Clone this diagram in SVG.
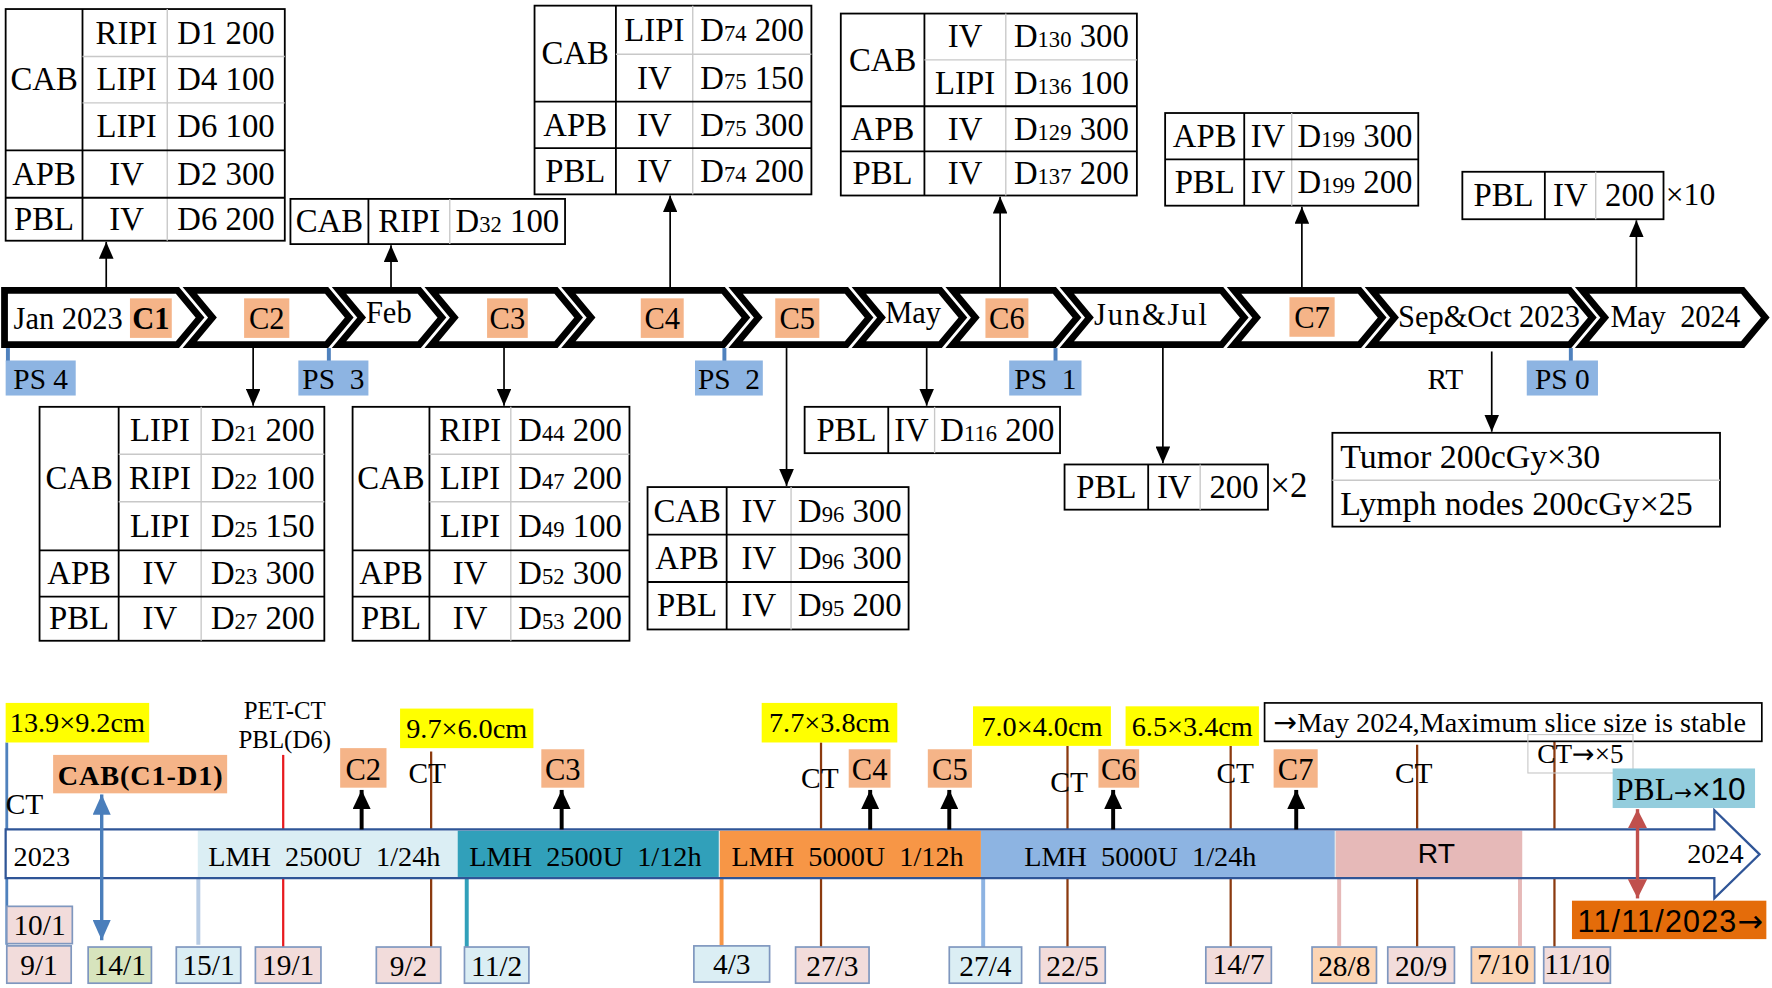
<svg xmlns="http://www.w3.org/2000/svg" width="1772" height="988" viewBox="0 0 1772 988">
<style>
.tb{fill:#fff;stroke:#000;stroke-width:1.6}
.dk{stroke:#000;stroke-width:1.6}
.lt{stroke:#c8c8c8;stroke-width:1.2}
.t{font-family:"Liberation Serif","Times New Roman",serif;font-size:29px;text-anchor:middle;fill:#000}
.tl{font-family:"Liberation Serif","Times New Roman",serif;font-size:30px;fill:#000}
.sub{font-size:20px}
.chev{fill:#fff;stroke:#000;stroke-width:6;stroke-linejoin:miter}
.cb{fill:#F5B488}
.ct{font-family:"Liberation Serif","Times New Roman",serif;font-size:27px;text-anchor:middle;fill:#000}
.ps{fill:#8DB4E2}
.psl{stroke:#4F81BD;stroke-width:3.5}
.ar{stroke:#000;stroke-width:1.5;marker-end:url(#ah)}
.arb{stroke:#000;stroke-width:3.5;marker-end:url(#ahb)}
.s{font-family:"Liberation Serif","Times New Roman",serif;font-size:25px;fill:#000;white-space:pre}
.m{text-anchor:middle}
.yb{fill:#FFFF00}
.br{stroke:#8B3A0F;stroke-width:2}
.dt{stroke:#7F97BF;stroke-width:1.5}
.pk{fill:#F2DCDB}
.lb{fill:#DBEEF4}
.gn{fill:#D7E4BD}
.lo{fill:#FCD5B5}
.dtx{font-family:"Liberation Serif","Times New Roman",serif;font-size:26px;text-anchor:middle;fill:#000}
.arw{font-family:"DejaVu Sans",sans-serif}
</style>
<defs>
<marker id="ah" viewBox="0 0 10 10" refX="10" refY="5" markerWidth="15" markerHeight="13" markerUnits="userSpaceOnUse" orient="auto" preserveAspectRatio="none"><path d="M0,0L10,5L0,10z" fill="#000"/></marker>
<marker id="ahb" viewBox="0 0 10 10" refX="10" refY="5" markerWidth="17" markerHeight="16" markerUnits="userSpaceOnUse" orient="auto" preserveAspectRatio="none"><path d="M0,0L10,5L0,10z" fill="#000"/></marker>
<marker id="abl" viewBox="0 0 10 10" refX="10" refY="5" markerWidth="18" markerHeight="16" markerUnits="userSpaceOnUse" orient="auto-start-reverse" preserveAspectRatio="none"><path d="M0,0L10,5L0,10z" fill="#4A7EBB"/></marker>
<marker id="ard" viewBox="0 0 10 10" refX="10" refY="5" markerWidth="17" markerHeight="17" markerUnits="userSpaceOnUse" orient="auto-start-reverse" preserveAspectRatio="none"><path d="M0,0L10,5L0,10z" fill="#C0504D"/></marker>
</defs>
<rect width="1772" height="988" fill="#fff"/>
<g transform="scale(1.1301)">

<!-- TOP TABLES -->
<g id="t1">
<rect x="5" y="8" width="247" height="205" class="tb"/>
<line x1="73" y1="8" x2="73" y2="213" class="dk"/>
<line x1="148" y1="8" x2="148" y2="213" class="lt"/>
<line x1="73" y1="50" x2="252" y2="50" class="lt"/>
<line x1="73" y1="91" x2="252" y2="91" class="lt"/>
<line x1="5" y1="133" x2="252" y2="133" class="dk"/>
<line x1="5" y1="175" x2="252" y2="175" class="dk"/>
<text x="39" y="80" class="t">CAB</text>
<text x="112" y="38.5" class="t">RIPI</text><text x="200" y="38.5" class="t">D1 200</text>
<text x="112" y="80" class="t">LIPI</text><text x="200" y="80" class="t">D4 100</text>
<text x="112" y="121.5" class="t">LIPI</text><text x="200" y="121.5" class="t">D6 100</text>
<text x="39" y="163.5" class="t">APB</text><text x="112" y="163.5" class="t">IV</text><text x="200" y="163.5" class="t">D2 300</text>
<text x="39" y="203.5" class="t">PBL</text><text x="112" y="203.5" class="t">IV</text><text x="200" y="203.5" class="t">D6 200</text>
</g>
<g id="t2">
<rect x="257" y="176" width="243" height="40" class="tb"/>
<line x1="326" y1="176" x2="326" y2="216" class="dk"/>
<line x1="398" y1="176" x2="398" y2="216" class="lt"/>
<text x="291.5" y="205.5" class="t">CAB</text><text x="362" y="205.5" class="t">RIPI</text><text x="449" y="205.5" class="t">D<tspan class="sub">32</tspan> 100</text>
</g>
<g id="t3">
<rect x="473" y="5" width="245" height="167" class="tb"/>
<line x1="545" y1="5" x2="545" y2="172" class="dk"/>
<line x1="613" y1="5" x2="613" y2="172" class="lt"/>
<line x1="545" y1="48" x2="718" y2="48" class="lt"/>
<line x1="473" y1="90" x2="718" y2="90" class="dk"/>
<line x1="473" y1="131" x2="718" y2="131" class="dk"/>
<text x="509" y="57" class="t">CAB</text>
<text x="579" y="36" class="t">LIPI</text><text x="665.5" y="36" class="t">D<tspan class="sub">74</tspan> 200</text>
<text x="579" y="78.5" class="t">IV</text><text x="665.5" y="78.5" class="t">D<tspan class="sub">75</tspan> 150</text>
<text x="509" y="120" class="t">APB</text><text x="579" y="120" class="t">IV</text><text x="665.5" y="120" class="t">D<tspan class="sub">75</tspan> 300</text>
<text x="509" y="161" class="t">PBL</text><text x="579" y="161" class="t">IV</text><text x="665.5" y="161" class="t">D<tspan class="sub">74</tspan> 200</text>
</g>
<g id="t4">
<rect x="744" y="12" width="262" height="161" class="tb"/>
<line x1="818" y1="12" x2="818" y2="173" class="dk"/>
<line x1="890" y1="12" x2="890" y2="173" class="lt"/>
<line x1="818" y1="53" x2="1006" y2="53" class="lt"/>
<line x1="744" y1="94" x2="1006" y2="94" class="dk"/>
<line x1="744" y1="134" x2="1006" y2="134" class="dk"/>
<text x="781" y="62.5" class="t">CAB</text>
<text x="854" y="42" class="t">IV</text><text x="948" y="42" class="t">D<tspan class="sub">130</tspan> 300</text>
<text x="854" y="83" class="t">LIPI</text><text x="948" y="83" class="t">D<tspan class="sub">136</tspan> 100</text>
<text x="781" y="123.5" class="t">APB</text><text x="854" y="123.5" class="t">IV</text><text x="948" y="123.5" class="t">D<tspan class="sub">129</tspan> 300</text>
<text x="781" y="163" class="t">PBL</text><text x="854" y="163" class="t">IV</text><text x="948" y="163" class="t">D<tspan class="sub">137</tspan> 200</text>
</g>
<g id="t5">
<rect x="1031" y="100" width="224" height="82" class="tb"/>
<line x1="1101" y1="100" x2="1101" y2="182" class="dk"/>
<line x1="1143" y1="100" x2="1143" y2="182" class="lt"/>
<line x1="1031" y1="141" x2="1255" y2="141" class="dk"/>
<text x="1066" y="130" class="t">APB</text><text x="1122" y="130" class="t">IV</text><text x="1199" y="130" class="t">D<tspan class="sub">199</tspan> 300</text>
<text x="1066" y="171" class="t">PBL</text><text x="1122" y="171" class="t">IV</text><text x="1199" y="171" class="t">D<tspan class="sub">199</tspan> 200</text>
</g>
<g id="t6">
<rect x="1294" y="152" width="178" height="42" class="tb"/>
<line x1="1367" y1="152" x2="1367" y2="194" class="dk"/>
<line x1="1412" y1="152" x2="1412" y2="194" class="lt"/>
<text x="1330.5" y="182.5" class="t">PBL</text><text x="1389.5" y="182.5" class="t">IV</text><text x="1442" y="182.5" class="t">200</text>
<text x="1474" y="181" class="tl" style="font-size:28px">×10</text>
</g>

<!-- CHEVRON BAR -->
<g id="chevrons">
<path class="chev" d="M4,257H157L177,281L157,305H4Z"/>
<path class="chev" d="M168,257H289L309,281L289,305H168L188,281Z"/>
<path class="chev" d="M300,257H371L391,281L371,305H300L320,281Z"/>
<path class="chev" d="M382,257H492L512,281L492,305H382L402,281Z"/>
<path class="chev" d="M503,257H640L660,281L640,305H503L523,281Z"/>
<path class="chev" d="M651,257H749L769,281L749,305H651L671,281Z"/>
<path class="chev" d="M760,257H832L852,281L832,305H760L780,281Z"/>
<path class="chev" d="M843,257H933L953,281L933,305H843L863,281Z"/>
<path class="chev" d="M944,257H1081L1101,281L1081,305H944L964,281Z"/>
<path class="chev" d="M1092,257H1203L1223,281L1203,305H1092L1112,281Z"/>
<path class="chev" d="M1214,257H1389L1409,281L1389,305H1214L1234,281Z"/>
<path class="chev" d="M1400,257H1542L1562,281L1542,305H1400L1420,281Z"/>
<text x="12" y="291" class="ct" style="text-anchor:start">Jan 2023</text>
<rect x="115" y="264" width="37" height="35" class="cb"/><text x="133.5" y="291" class="ct" style="font-weight:bold">C1</text>
<rect x="216" y="264" width="40" height="35" class="cb"/><text x="236" y="291" class="ct">C2</text>
<text x="344" y="286" class="ct">Feb</text>
<rect x="431" y="264" width="36" height="35" class="cb"/><text x="449" y="291" class="ct">C3</text>
<rect x="567" y="264" width="38" height="35" class="cb"/><text x="586" y="291" class="ct">C4</text>
<rect x="686" y="264" width="39" height="35" class="cb"/><text x="705.5" y="291" class="ct">C5</text>
<text x="808" y="286" class="ct">May</text>
<rect x="872" y="264" width="38" height="35" class="cb"/><text x="891" y="291" class="ct">C6</text>
<text x="968" y="288" class="ct" style="text-anchor:start" textLength="100">Jun&amp;Jul</text>
<rect x="1141" y="263" width="40" height="35" class="cb"/><text x="1161" y="290" class="ct">C7</text>
<text x="1237" y="289" class="ct" style="text-anchor:start" textLength="161">Sep&amp;Oct 2023</text>
<text x="1425" y="289" class="ct" style="text-anchor:start;white-space:pre" textLength="115">May  2024</text>
</g>

<g id="ps">
<line x1="7" y1="308" x2="7" y2="320" class="psl"/>
<line x1="291" y1="308" x2="291" y2="320" class="psl"/>
<line x1="641" y1="308" x2="641" y2="320" class="psl"/>
<line x1="934" y1="308" x2="934" y2="320" class="psl"/>
<line x1="1390" y1="308" x2="1390" y2="320" class="psl"/>
<rect x="5" y="319" width="62" height="31" class="ps"/><text x="36" y="344" class="ct" style="font-size:26px">PS 4</text>
<rect x="264" y="319" width="62" height="31" class="ps"/><text x="295" y="344" class="ct" style="font-size:26px;white-space:pre">PS  3</text>
<rect x="615" y="319" width="60" height="31" class="ps"/><text x="645" y="344" class="ct" style="font-size:26px;white-space:pre">PS  2</text>
<rect x="893" y="319" width="64" height="31" class="ps"/><text x="925" y="344" class="ct" style="font-size:26px;white-space:pre">PS  1</text>
<rect x="1351" y="319" width="63" height="31" class="ps"/><text x="1382.5" y="344" class="ct" style="font-size:26px">PS 0</text>
</g>
<text x="1279" y="344" class="ct" style="font-size:26px">RT</text>

<!-- LOWER TABLES -->
<g id="t7">
<rect x="35" y="360" width="252" height="207" class="tb"/>
<line x1="105" y1="360" x2="105" y2="567" class="dk"/>
<line x1="178" y1="360" x2="178" y2="567" class="lt"/>
<line x1="105" y1="402" x2="287" y2="402" class="lt"/>
<line x1="105" y1="444" x2="287" y2="444" class="lt"/>
<line x1="35" y1="487" x2="287" y2="487" class="dk"/>
<line x1="35" y1="528" x2="287" y2="528" class="dk"/>
<text x="70" y="433" class="t">CAB</text>
<text x="141.5" y="390.5" class="t">LIPI</text><text x="232.5" y="390.5" class="t">D<tspan class="sub">21</tspan> 200</text>
<text x="141.5" y="432.5" class="t">RIPI</text><text x="232.5" y="432.5" class="t">D<tspan class="sub">22</tspan> 100</text>
<text x="141.5" y="475" class="t">LIPI</text><text x="232.5" y="475" class="t">D<tspan class="sub">25</tspan> 150</text>
<text x="70" y="517" class="t">APB</text><text x="141.5" y="517" class="t">IV</text><text x="232.5" y="517" class="t">D<tspan class="sub">23</tspan> 300</text>
<text x="70" y="557" class="t">PBL</text><text x="141.5" y="557" class="t">IV</text><text x="232.5" y="557" class="t">D<tspan class="sub">27</tspan> 200</text>
</g>
<g id="t8">
<rect x="312" y="360" width="245" height="207" class="tb"/>
<line x1="380" y1="360" x2="380" y2="567" class="dk"/>
<line x1="452" y1="360" x2="452" y2="567" class="lt"/>
<line x1="380" y1="402" x2="557" y2="402" class="lt"/>
<line x1="380" y1="444" x2="557" y2="444" class="lt"/>
<line x1="312" y1="487" x2="557" y2="487" class="dk"/>
<line x1="312" y1="528" x2="557" y2="528" class="dk"/>
<text x="346" y="433" class="t">CAB</text>
<text x="416" y="390.5" class="t">RIPI</text><text x="504.5" y="390.5" class="t">D<tspan class="sub">44</tspan> 200</text>
<text x="416" y="432.5" class="t">LIPI</text><text x="504.5" y="432.5" class="t">D<tspan class="sub">47</tspan> 200</text>
<text x="416" y="475" class="t">LIPI</text><text x="504.5" y="475" class="t">D<tspan class="sub">49</tspan> 100</text>
<text x="346" y="517" class="t">APB</text><text x="416" y="517" class="t">IV</text><text x="504.5" y="517" class="t">D<tspan class="sub">52</tspan> 300</text>
<text x="346" y="557" class="t">PBL</text><text x="416" y="557" class="t">IV</text><text x="504.5" y="557" class="t">D<tspan class="sub">53</tspan> 200</text>
</g>
<g id="t9">
<rect x="573" y="431" width="231" height="126" class="tb"/>
<line x1="643" y1="431" x2="643" y2="557" class="dk"/>
<line x1="700" y1="431" x2="700" y2="557" class="lt"/>
<line x1="573" y1="473" x2="804" y2="473" class="dk"/>
<line x1="573" y1="515" x2="804" y2="515" class="dk"/>
<text x="608" y="461.5" class="t">CAB</text><text x="671.5" y="461.5" class="t">IV</text><text x="752" y="461.5" class="t">D<tspan class="sub">96</tspan> 300</text>
<text x="608" y="503.5" class="t">APB</text><text x="671.5" y="503.5" class="t">IV</text><text x="752" y="503.5" class="t">D<tspan class="sub">96</tspan> 300</text>
<text x="608" y="545.5" class="t">PBL</text><text x="671.5" y="545.5" class="t">IV</text><text x="752" y="545.5" class="t">D<tspan class="sub">95</tspan> 200</text>
</g>
<g id="t10">
<rect x="712" y="360" width="226" height="41" class="tb"/>
<line x1="786" y1="360" x2="786" y2="401" class="dk"/>
<line x1="827" y1="360" x2="827" y2="401" class="lt"/>
<text x="749" y="390" class="t">PBL</text><text x="806.5" y="390" class="t">IV</text><text x="882.5" y="390" class="t">D<tspan class="sub">116</tspan> 200</text>
</g>
<g id="t11">
<rect x="942" y="411" width="180" height="40" class="tb"/>
<line x1="1016" y1="411" x2="1016" y2="451" class="dk"/>
<line x1="1062" y1="411" x2="1062" y2="451" class="lt"/>
<text x="979" y="440.5" class="t">PBL</text><text x="1039" y="440.5" class="t">IV</text><text x="1092" y="440.5" class="t">200</text>
<text x="1124" y="440" class="tl" style="font-size:31px">×2</text>
</g>
<g id="t12">
<rect x="1179" y="383" width="343" height="83" class="tb"/>
<line x1="1179" y1="425" x2="1522" y2="425" class="lt"/>
<text x="1186" y="414" class="tl">Tumor 200cGy×30</text>
<text x="1186" y="456" class="tl">Lymph nodes 200cGy×25</text>
</g>

<g id="connectors">
<line x1="94" y1="254" x2="94" y2="214" class="ar"/>
<line x1="346" y1="254" x2="346" y2="217" class="ar"/>
<line x1="593" y1="254" x2="593" y2="173" class="ar"/>
<line x1="885" y1="254" x2="885" y2="174" class="ar"/>
<line x1="1152" y1="254" x2="1152" y2="183" class="ar"/>
<line x1="1448" y1="254" x2="1448" y2="195" class="ar"/>
<line x1="224" y1="308" x2="224" y2="359" class="ar"/>
<line x1="446" y1="308" x2="446" y2="359" class="ar"/>
<line x1="696" y1="308" x2="696" y2="430" class="ar"/>
<line x1="820" y1="308" x2="820" y2="359" class="ar"/>
<line x1="1029" y1="308" x2="1029" y2="410" class="ar"/>
<line x1="1320" y1="311" x2="1320" y2="382" class="ar"/>
</g>

<!-- BOTTOM TIMELINE -->
<g id="vlines">
<line x1="6" y1="657" x2="6" y2="836" stroke="#4F81BD" stroke-width="2.5"/>
<line x1="250.6" y1="668" x2="250.6" y2="838" stroke="#E8191E" stroke-width="2"/>
<line x1="381.5" y1="665" x2="381.5" y2="838" class="br"/>
<line x1="726.5" y1="657" x2="726.5" y2="838" class="br"/>
<line x1="944.6" y1="660" x2="944.6" y2="838" class="br"/>
<line x1="1089" y1="660" x2="1089" y2="838" class="br"/>
<line x1="1254" y1="659" x2="1254" y2="838" class="br"/>
<line x1="1375.5" y1="656" x2="1375.5" y2="838" class="br"/>
<line x1="175.5" y1="777" x2="175.5" y2="836" stroke="#B8CCE4" stroke-width="3.5"/>
<line x1="413" y1="777" x2="413" y2="838" stroke="#31A0BA" stroke-width="3.5"/>
<line x1="638.5" y1="777" x2="638.5" y2="837" stroke="#F79646" stroke-width="3.5"/>
<line x1="870" y1="777" x2="870" y2="838" stroke="#8DB3E2" stroke-width="3.5"/>
<line x1="1185" y1="777" x2="1185" y2="837" stroke="#E6B9B8" stroke-width="3.5"/>
<line x1="1345" y1="777" x2="1345" y2="837" stroke="#E6B9B8" stroke-width="3.5"/>
</g>

<g id="bar">
<path d="M5,734H1517V717L1557,756L1517,795V777H5Z" fill="#fff"/>
<rect x="175" y="735" width="230" height="41" fill="#DBEEF4"/>
<rect x="405" y="735" width="231.5" height="41" fill="#31A0BA"/>
<rect x="636.5" y="735" width="231.5" height="41" fill="#F79646"/>
<rect x="868" y="735" width="313.5" height="41" fill="#8DB4E2"/>
<rect x="1181.5" y="735" width="165.5" height="41" fill="#E6B9B8"/>
<line x1="636.5" y1="735" x2="636.5" y2="776" stroke="#e8e8e8" stroke-width="1"/>
<line x1="1181.5" y1="735" x2="1181.5" y2="776" stroke="#e8e8e8" stroke-width="1"/>
<path d="M5,734H1517V717L1557,756L1517,795V777H5Z" fill="none" stroke="#2F5597" stroke-width="2"/>
<text x="12" y="766" class="s">2023</text>
<text x="287" y="766" class="s m">LMH  2500U  1/24h</text>
<text x="518" y="766" class="s m">LMH  2500U  1/12h</text>
<text x="750" y="766" class="s m">LMH  5000U  1/12h</text>
<text x="1009" y="766" class="s m">LMH  5000U  1/24h</text>
<text x="1271" y="764" class="s m" style="font-family:'Liberation Sans',Arial,sans-serif">RT</text>
<text x="1543" y="764" class="s" style="text-anchor:end">2024</text>
</g>

<g id="sizes">
<rect x="5" y="622" width="127" height="35" class="yb"/><text x="68.5" y="648" class="s m">13.9×9.2cm</text>
<rect x="354" y="627" width="118" height="35" class="yb"/><text x="413" y="653" class="s m">9.7×6.0cm</text>
<rect x="674" y="622" width="120" height="35" class="yb"/><text x="734" y="648" class="s m">7.7×3.8cm</text>
<rect x="861" y="625" width="122" height="35" class="yb"/><text x="922" y="651" class="s m">7.0×4.0cm</text>
<rect x="996" y="625" width="118" height="35" class="yb"/><text x="1055" y="651" class="s m">6.5×3.4cm</text>
</g>

<g id="ctlabels">
<text x="5" y="720" class="s" style="font-size:26px">CT</text>
<text x="252" y="636" class="s m" style="font-size:22px">PET-CT</text>
<text x="252" y="662" class="s m" style="font-size:22px">PBL(D6)</text>
<text x="378" y="693" class="s m" style="font-size:26px">CT</text>
<text x="725.5" y="697" class="s m" style="font-size:26px">CT</text>
<text x="946" y="701" class="s m" style="font-size:26px">CT</text>
<text x="1093" y="693" class="s m" style="font-size:26px">CT</text>
<text x="1251" y="693" class="s m" style="font-size:26px">CT</text>
</g>

<g id="cycles">
<rect x="301" y="662" width="41" height="35" class="cb"/><text x="321.5" y="690" class="ct">C2</text>
<rect x="479" y="663" width="38" height="34" class="cb"/><text x="498" y="690" class="ct">C3</text>
<rect x="751" y="663" width="37" height="34" class="cb"/><text x="769.5" y="690" class="ct">C4</text>
<rect x="821" y="663" width="39" height="34" class="cb"/><text x="840.5" y="690" class="ct">C5</text>
<rect x="972" y="663" width="36" height="34" class="cb"/><text x="990" y="690" class="ct">C6</text>
<rect x="1127" y="663" width="39" height="34" class="cb"/><text x="1146.5" y="690" class="ct">C7</text>
<rect x="47" y="668" width="154" height="34" class="cb"/><text x="124" y="695" class="s m" style="font-weight:bold" textLength="146">CAB(C1-D1)</text>
</g>

<g id="notes">
<rect x="1119" y="622" width="440" height="34" fill="#fff" stroke="#000" stroke-width="1.5"/>
<text x="1127" y="648" class="s" textLength="418"><tspan class="arw">→</tspan>May 2024,Maximum slice size is stable</text>
<rect x="1352" y="650" width="93" height="34" fill="none" stroke="#c8c8c8" stroke-width="1"/>
<text x="1398.5" y="675" class="s m" style="font-size:24px">CT<tspan class="arw">→</tspan>×5</text>
<rect x="1427" y="680" width="126" height="35" fill="#93CDDD"/>
<text x="1430" y="708" class="s" style="font-size:28px">PBL<tspan class="arw" style="font-size:19px">→</tspan><tspan style="font-family:'Liberation Sans',Arial,sans-serif">×10</tspan></text>
<rect x="1391" y="797" width="172" height="34" fill="#E46C0A"/>
<text x="1396" y="825" style="font-family:'Liberation Sans',Arial,sans-serif;font-size:27px" textLength="164">11/11/2023<tspan class="arw">→</tspan></text>
</g>

<g id="dates">
<rect x="6" y="802" width="58" height="33" class="dt pk"/><text x="35" y="827" class="dtx">10/1</text>
<rect x="6" y="837" width="57" height="33" class="dt pk"/><text x="34.5" y="863" class="dtx">9/1</text>
<rect x="78" y="838" width="56" height="32" class="dt gn"/><text x="106" y="863" class="dtx">14/1</text>
<rect x="156" y="838" width="57" height="32" class="dt lb"/><text x="184.5" y="863" class="dtx">15/1</text>
<rect x="226" y="838" width="58" height="32" class="dt pk"/><text x="255" y="863" class="dtx">19/1</text>
<rect x="333" y="838" width="57" height="32" class="dt pk"/><text x="361.5" y="864" class="dtx">9/2</text>
<rect x="411" y="838" width="57" height="32" class="dt lb"/><text x="439.5" y="864" class="dtx">11/2</text>
<rect x="614" y="837" width="67" height="32" class="dt lb"/><text x="647.5" y="862" class="dtx">4/3</text>
<rect x="704" y="838" width="65" height="32" class="dt pk"/><text x="736.5" y="864" class="dtx">27/3</text>
<rect x="840" y="838" width="64" height="32" class="dt lb"/><text x="872" y="864" class="dtx">27/4</text>
<rect x="920" y="838" width="58" height="32" class="dt pk"/><text x="949" y="864" class="dtx">22/5</text>
<rect x="1067" y="838" width="58" height="32" class="dt pk"/><text x="1096" y="862" class="dtx">14/7</text>
<rect x="1161" y="838" width="57" height="32" class="dt lo"/><text x="1189.5" y="864" class="dtx">28/8</text>
<rect x="1228" y="838" width="59" height="32" class="dt pk"/><text x="1257.5" y="864" class="dtx">20/9</text>
<rect x="1302" y="838" width="56" height="32" class="dt lo"/><text x="1330" y="862" class="dtx">7/10</text>
<rect x="1366" y="838" width="59" height="32" class="dt pk"/><text x="1395.5" y="862" class="dtx">11/10</text>
</g>

<g id="connectors2">
<line x1="320" y1="734" x2="320" y2="699" class="arb"/>
<line x1="497" y1="734" x2="497" y2="699" class="arb"/>
<line x1="770" y1="734" x2="770" y2="699" class="arb"/>
<line x1="840" y1="734" x2="840" y2="699" class="arb"/>
<line x1="985" y1="734" x2="985" y2="699" class="arb"/>
<line x1="1147" y1="734" x2="1147" y2="699" class="arb"/>
<line x1="90" y1="703" x2="90" y2="832" stroke="#4A7EBB" stroke-width="3" marker-start="url(#abl)" marker-end="url(#abl)"/>
<line x1="1449" y1="716" x2="1449" y2="795" stroke="#C0504D" stroke-width="3" marker-start="url(#ard)" marker-end="url(#ard)"/>
</g>
</g>
</svg>
